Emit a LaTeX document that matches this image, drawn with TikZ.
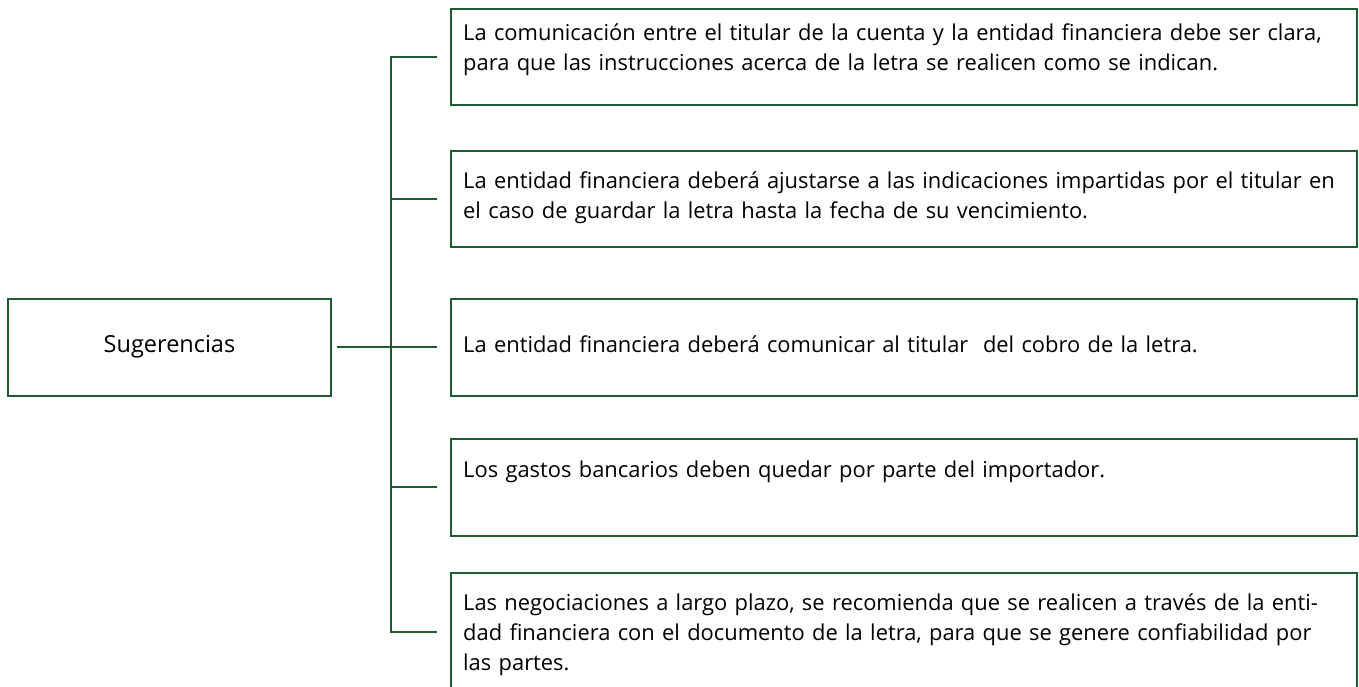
\documentclass[tikz,border=0pt]{standalone}
\usepackage{fontspec}
\setmainfont{Open Sans}
\definecolor{dkgreen}{HTML}{1E5C30}
\tikzset{
  box/.style={draw=dkgreen, line width=2pt, rectangle, inner sep=0pt, minimum width=906pt},
  conn/.style={draw=dkgreen, line width=2pt},
  txt/.style={anchor=base west, inner sep=0pt, align=left, text width=900pt,
    font=\fontsize{21.9}{30}\selectfont, text=black},
}
\begin{document}
\begin{tikzpicture}[x=1pt,y=-1pt]
\useasboundingbox (0,0) rectangle (1359,687);
\fill[white] (0,0) rectangle (1359,687);
% left box
\node[draw=dkgreen, line width=2pt, minimum width=323pt, minimum height=97pt, inner sep=0pt,
  font=\fontsize{23.5}{30}\selectfont] (s) at (169.5,347) {Sugerencias};
% right boxes
\node[box, minimum height=96pt] (b1) at (904,57) {};
\node[box, minimum height=96pt] (b2) at (904,199) {};
\node[box, minimum height=97pt] (b3) at (904,347) {};
\node[box, minimum height=97pt] (b4) at (904,487) {};
\node[box, minimum height=118pt] (b5) at (904,632) {};
% texts
\node[txt] (t1) at (463,41) {La comunicación entre el titular de la cuenta y la entidad financiera debe ser clara,\\para que las instrucciones acerca de la letra se realicen como se indican.};
\node[txt] (t2) at (463,189) {La entidad financiera deberá ajustarse a las indicaciones impartidas por el titular en\\el caso de guardar la letra hasta la fecha de su vencimiento.};
\node[txt] (t3) at (463,352) {La entidad financiera deberá comunicar al titular\ \ del cobro de la letra.};
\node[txt] (t4) at (463,477) {Los gastos bancarios deben quedar por parte del importador.};
\node[txt] (t5) at (463,610) {Las negociaciones a largo plazo, se recomienda que se realicen a través de la enti-\\dad financiera con el documento de la letra, para que se genere confiabilidad por\\las partes.};
% connectors
\draw[conn] ([xshift=-13pt]b1.west) -- ([xshift=-59pt]b1.west) -- ([xshift=-59pt]b5.west) -- ([xshift=-13pt]b5.west);
\draw[conn] ([xshift=5pt]s.east) -- ([xshift=-13pt]b3.west);
\draw[conn] ([xshift=-59pt]b2.west) -- ([xshift=-13pt]b2.west);
\draw[conn] ([xshift=-59pt]b4.west) -- ([xshift=-13pt]b4.west);
\end{tikzpicture}
\end{document}
